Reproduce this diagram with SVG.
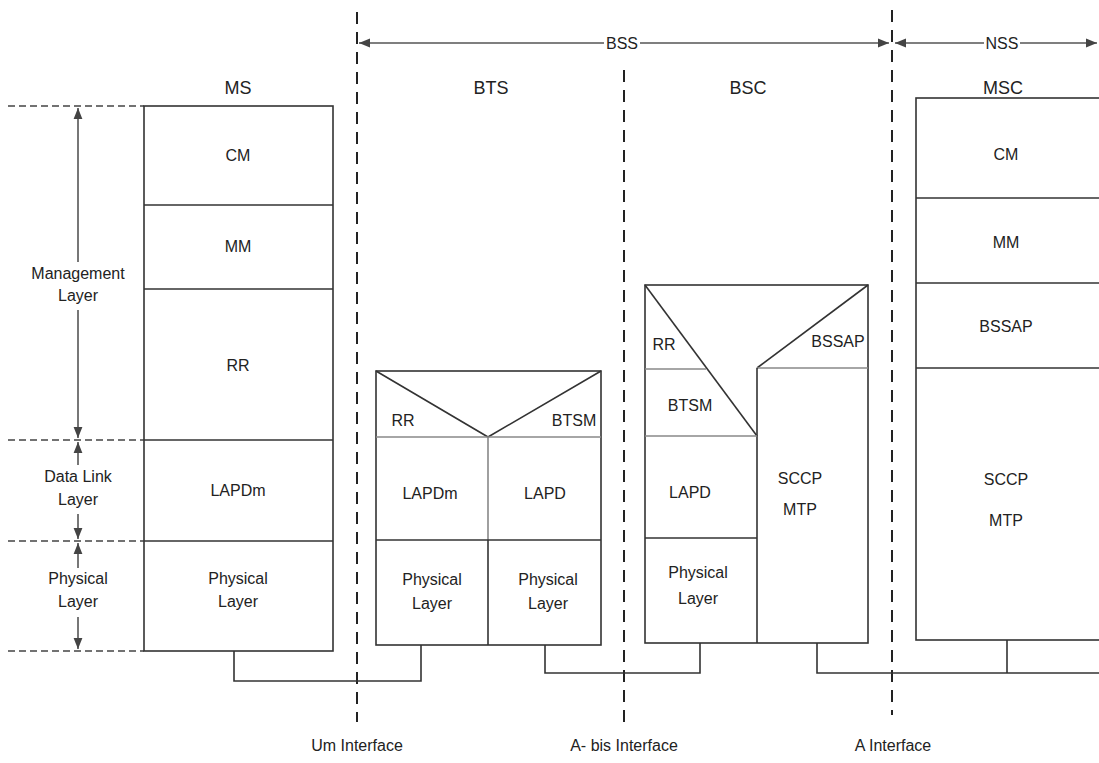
<svg xmlns="http://www.w3.org/2000/svg" width="1099" height="763" viewBox="0 0 1099 763">
<defs>
<style>
text{font-family:"Liberation Sans Narrow","Liberation Sans",Arial,sans-serif;fill:#222;text-anchor:middle}
.t{font-size:18px}
.l{font-size:16px}
.box{fill:#fff;stroke:#333;stroke-width:1.6}
.ln{stroke:#333;stroke-width:1.6;fill:none}
.gl{stroke:#888;stroke-width:1.6;fill:none}
.vd{stroke:#222;stroke-width:2;stroke-dasharray:12 8;fill:none}
.hd{stroke:#444;stroke-width:1.6;stroke-dasharray:7 4;fill:none}
.ar{stroke:#555;stroke-width:1.6;fill:none}
</style>
<marker id="ah" viewBox="0 0 10 10" refX="10" refY="5" markerWidth="7" markerHeight="7" orient="auto-start-reverse">
<path d="M0,1 L10,5 L0,9 Z" fill="#444"/>
</marker>
</defs>
<rect width="1099" height="763" fill="#fff"/>

<g id="interfaces">
<line class="vd" x1="357" y1="12" x2="357" y2="722"/>
<line class="vd" x1="624" y1="70" x2="624" y2="722"/>
<line class="vd" x1="892" y1="10" x2="892" y2="715"/>
<text class="l" x="357" y="751">Um Interface</text>
<text class="l" x="624" y="751">A- bis Interface</text>
<text class="l" x="893" y="751">A Interface</text>
</g>

<g id="domains">
<line class="ar" x1="359" y1="43" x2="604" y2="43" marker-start="url(#ah)"/>
<line class="ar" x1="640" y1="43" x2="889" y2="43" marker-end="url(#ah)"/>
<text class="l" x="622" y="49">BSS</text>
<line class="ar" x1="895" y1="43" x2="984" y2="43" marker-start="url(#ah)"/>
<line class="ar" x1="1020" y1="43" x2="1097" y2="43" marker-end="url(#ah)"/>
<text class="l" x="1002" y="49">NSS</text>
</g>

<g id="layers-legend">
<line class="hd" x1="8" y1="106" x2="144" y2="106"/>
<line class="hd" x1="8" y1="440" x2="144" y2="440"/>
<line class="hd" x1="8" y1="541" x2="144" y2="541"/>
<line class="hd" x1="8" y1="651" x2="144" y2="651"/>
<line class="ar" x1="78" y1="108" x2="78" y2="262" marker-start="url(#ah)"/>
<line class="ar" x1="78" y1="310" x2="78" y2="438" marker-end="url(#ah)"/>
<text class="l" x="78" y="279">Management</text>
<text class="l" x="78" y="301">Layer</text>
<line class="ar" x1="78" y1="442" x2="78" y2="465" marker-start="url(#ah)"/>
<line class="ar" x1="78" y1="514" x2="78" y2="539" marker-end="url(#ah)"/>
<text class="l" x="78" y="482">Data Link</text>
<text class="l" x="78" y="505">Layer</text>
<line class="ar" x1="78" y1="543" x2="78" y2="568" marker-start="url(#ah)"/>
<line class="ar" x1="78" y1="617" x2="78" y2="649" marker-end="url(#ah)"/>
<text class="l" x="78" y="584">Physical</text>
<text class="l" x="78" y="607">Layer</text>
</g>

<g id="ms">
<text class="t" x="238" y="94">MS</text>
<rect class="box" x="144" y="106" width="189" height="545"/>
<line class="ln" x1="144" y1="205" x2="333" y2="205"/>
<line class="ln" x1="144" y1="289" x2="333" y2="289"/>
<line class="ln" x1="144" y1="440" x2="333" y2="440"/>
<line class="ln" x1="144" y1="541" x2="333" y2="541"/>
<text class="l" x="238" y="161">CM</text>
<text class="l" x="238" y="252">MM</text>
<text class="l" x="238" y="371">RR</text>
<text class="l" x="238" y="496">LAPDm</text>
<text class="l" x="238" y="584">Physical</text>
<text class="l" x="238" y="607">Layer</text>
</g>

<g id="bts">
<text class="t" x="491" y="94">BTS</text>
<rect class="box" x="376" y="371" width="225" height="274"/>
<polyline class="ln" points="376,371 488,437 601,371"/>
<line class="gl" x1="376" y1="437" x2="601" y2="437"/>
<line class="gl" x1="488" y1="437" x2="488" y2="540"/>
<line class="ln" x1="488" y1="540" x2="488" y2="645"/>
<line class="ln" x1="376" y1="540" x2="601" y2="540"/>
<text class="l" x="403" y="426">RR</text>
<text class="l" x="574" y="426">BTSM</text>
<text class="l" x="430" y="499">LAPDm</text>
<text class="l" x="545" y="499">LAPD</text>
<text class="l" x="432" y="585">Physical</text>
<text class="l" x="432" y="609">Layer</text>
<text class="l" x="548" y="585">Physical</text>
<text class="l" x="548" y="609">Layer</text>
</g>

<g id="bsc">
<text class="t" x="748" y="94">BSC</text>
<rect class="box" x="645" y="285" width="223" height="358"/>
<line class="ln" x1="645" y1="285" x2="757" y2="436"/>
<line class="ln" x1="757" y1="368" x2="868" y2="285"/>
<line class="gl" x1="645" y1="369" x2="706" y2="369"/>
<line class="gl" x1="757" y1="368" x2="868" y2="368"/>
<line class="ln" x1="757" y1="368" x2="757" y2="643"/>
<line class="gl" x1="645" y1="436" x2="757" y2="436"/>
<line class="ln" x1="645" y1="538" x2="757" y2="538"/>
<text class="l" x="664" y="350">RR</text>
<text class="l" x="838" y="347">BSSAP</text>
<text class="l" x="690" y="411">BTSM</text>
<text class="l" x="690" y="498">LAPD</text>
<text class="l" x="698" y="578">Physical</text>
<text class="l" x="698" y="604">Layer</text>
<text class="l" x="800" y="484">SCCP</text>
<text class="l" x="800" y="515">MTP</text>
</g>

<g id="msc">
<text class="t" x="1003" y="94">MSC</text>
<rect class="box" x="916" y="98" width="190" height="542"/>
<line class="ln" x1="916" y1="198" x2="1099" y2="198"/>
<line class="ln" x1="916" y1="283" x2="1099" y2="283"/>
<line class="ln" x1="916" y1="368" x2="1099" y2="368"/>
<text class="l" x="1006" y="160">CM</text>
<text class="l" x="1006" y="248">MM</text>
<text class="l" x="1006" y="332">BSSAP</text>
<text class="l" x="1006" y="485">SCCP</text>
<text class="l" x="1006" y="526">MTP</text>
</g>

<g id="connectors">
<polyline class="ln" points="234,651 234,681 421,681 421,645"/>
<polyline class="ln" points="545,645 545,673 700,673 700,643"/>
<polyline class="ln" points="817,643 817,673 1099,673"/>
<line class="ln" x1="1007" y1="640" x2="1007" y2="673"/>
</g>
</svg>
